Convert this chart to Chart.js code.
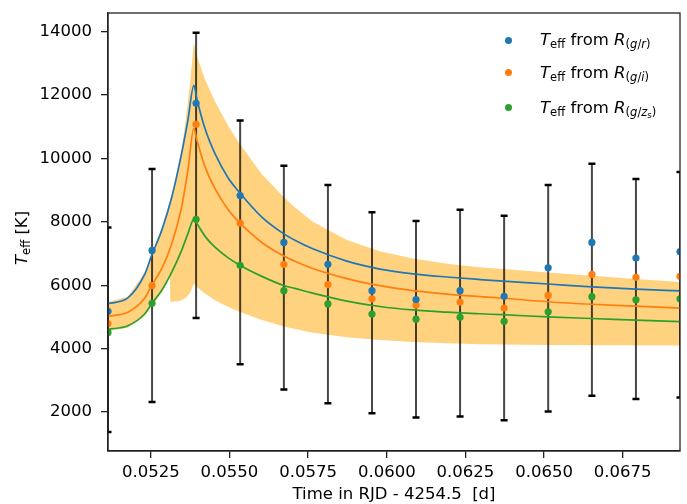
<!DOCTYPE html>
<html>
<head>
<meta charset="utf-8">
<script src="https://cdn.jsdelivr.net/npm/chart.js@4.4.1/dist/chart.umd.min.js"></script>
<style>
    body { margin: 0; background: #fff; }
    #wrap { position: relative; width: 687px; height: 504px; font-family: "DejaVu Sans", sans-serif; color: #000; }
    .lbl { position: absolute; font-size: 16.5px; white-space: pre; line-height: 20px; }
    .lbl sub { font-size: 70%; vertical-align: baseline; position: relative; top: 0.28em; line-height: 0; }
    .lbl sub sub { font-size: 75%; top: 0.22em; }
    .dot { position: absolute; width: 7px; height: 7px; border-radius: 50%; margin: -3.5px 0 0 -3.5px; }
</style>
</head>
<body>
<div id="wrap">
    <canvas id="tempChart" width="687" height="504"></canvas>

    <div class="dot" style="left:508.7px; top:40px; background:#1f77b4"></div>
    <div class="dot" style="left:508.7px; top:72.3px; background:#ff7f0e"></div>
    <div class="dot" style="left:508.7px; top:107.3px; background:#2ca02c"></div>
    <div class="lbl" style="left:540px; top:30px"><i>T</i><sub>eff</sub> from <i>R</i><sub>(<i>g</i>/<i>r</i>)</sub></div>
    <div class="lbl" style="left:540px; top:62.5px"><i>T</i><sub>eff</sub> from <i>R</i><sub>(<i>g</i>/<i>i</i>)</sub></div>
    <div class="lbl" style="left:540px; top:97.5px"><i>T</i><sub>eff</sub> from <i>R</i><sub>(<i>g</i>/<i>z</i><sub>s</sub>)</sub></div>

    <div class="lbl" style="left:22px; top:238px; transform: translate(-50%, -50%) rotate(-90deg)"><i>T</i><sub>eff</sub> [K]</div>
    <div class="lbl" style="left:394px; top:494px; transform: translate(-50%, -50%)">Time in RJD - 4254.5  [d]</div>
</div>

<script>
// observation times (RJD - 4254.5) and temperatures
var times = [0.05114, 0.05254, 0.05394, 0.05534, 0.05673, 0.05813, 0.05953, 0.06093, 0.06233, 0.06373, 0.06513, 0.06652, 0.06792, 0.06932];
var tempGR = [5180, 7100, 11740, 8830, 7350, 6660, 5830, 5550, 5830, 5650, 6550, 7350, 6860, 7060];
var tempGI = [4790, 5990, 11080, 7960, 6660, 6020, 5570, 5370, 5470, 5280, 5680, 6340, 6250, 6280];
var tempGZ = [4510, 5430, 8080, 6630, 5830, 5410, 5090, 4930, 4990, 4860, 5160, 5640, 5540, 5570];
var errLow = [1370, 2320, 4970, 3510, 2710, 2280, 1960, 1830, 1860, 1740, 2020, 2510, 2410, 2460];
var errHigh = [7820, 9670, 13970, 11200, 9770, 9160, 8300, 8030, 8380, 8190, 9160, 9830, 9350, 9570];

// model curves
var curveT = [0.05114, 0.05177, 0.05231, 0.05253, 0.05285, 0.05317, 0.05348, 0.05368, 0.05387, 0.05396, 0.05422, 0.05454, 0.05495, 0.05530, 0.05603, 0.05673, 0.05708, 0.05765, 0.05873, 0.05978, 0.06083, 0.06191, 0.06296, 0.06369, 0.06512, 0.06652, 0.06792, 0.06932];
var curveGR = [5420, 5600, 6350, 6950, 7740, 8790, 10160, 11210, 12310, 11900, 10950, 10150, 9400, 8950, 8150, 7620, 7420, 7150, 6760, 6510, 6360, 6260, 6180, 6130, 6040, 5950, 5880, 5820];
var curveGI = [5020, 5150, 5600, 6000, 6530, 7320, 8470, 9630, 10950, 10600, 9750, 9050, 8400, 8000, 7350, 6920, 6760, 6530, 6210, 5990, 5830, 5720, 5640, 5590, 5480, 5400, 5340, 5280];
var curveGZ = [4610, 4720, 5100, 5420, 5840, 6420, 7100, 7630, 8080, 7960, 7550, 7200, 6870, 6650, 6280, 5990, 5900, 5750, 5500, 5330, 5220, 5150, 5100, 5070, 5000, 4950, 4900, 4850];

// uncertainty band
var bandUpperT = [0.05114, 0.05177, 0.05231, 0.05253, 0.05285, 0.05317, 0.05348, 0.05361, 0.05374, 0.05387, 0.05396, 0.05422, 0.05454, 0.05495, 0.05530, 0.05603, 0.05673, 0.05708, 0.05765, 0.05873, 0.05978, 0.06083, 0.06191, 0.06296, 0.06369, 0.06512, 0.06652, 0.06792, 0.06932];
var bandUpper = [5470, 5640, 6400, 7000, 7800, 8850, 10300, 11200, 12300, 13650, 13250, 12500, 11800, 11050, 10500, 9500, 8780, 8450, 8000, 7430, 7070, 6840, 6680, 6570, 6510, 6400, 6300, 6200, 6100];
var bandLowerT = [0.05114, 0.05177, 0.05231, 0.05253, 0.05285, 0.05311, 0.05312, 0.05342, 0.05361, 0.05374, 0.05387, 0.05396, 0.05422, 0.05454, 0.05495, 0.05530, 0.05603, 0.05673, 0.05708, 0.05765, 0.05873, 0.05978, 0.06083, 0.06191, 0.06296, 0.06512, 0.06932];
var bandLower = [4560, 4660, 5040, 5350, 5780, 6300, 5470, 5500, 5600, 5750, 6050, 5950, 5740, 5530, 5320, 5170, 4900, 4700, 4620, 4500, 4360, 4270, 4210, 4170, 4140, 4115, 4100];

var xTicks = [0.0525, 0.0550, 0.0575, 0.0600, 0.0625, 0.0650, 0.0675];
var yTicks = [2000, 4000, 6000, 8000, 10000, 12000, 14000];

function toXY(xs, ys) {
    return xs.map(function (x, i) { return { x: x, y: ys[i] }; });
}

function curve(xs, ys, color) {
    return {
        type: 'line',
        data: toXY(xs, ys),
        borderColor: color,
        borderWidth: 1.7,
        pointRadius: 0,
        cubicInterpolationMode: 'monotone',
        fill: false,
        order: 1
    };
}

function points(ys, color) {
    return {
        type: 'scatter',
        data: toXY(times, ys),
        backgroundColor: color,
        borderWidth: 0,
        pointRadius: 3.6,
        pointHoverRadius: 3.6,
        order: 0
    };
}

// error bars + frame, drawn through the chart's scales
var errorBars = {
    id: 'errorBars',
    afterDatasetDraw: function (chart, args) {
        if (args.meta._dataset.label !== 'band') return;
        var ctx = chart.ctx, xs = chart.scales.x, ys = chart.scales.y, area = chart.chartArea;
        ctx.save();
        ctx.beginPath();
        ctx.rect(area.left, area.top, area.right - area.left, area.bottom - area.top);
        ctx.clip();
        for (var i = 0; i < times.length; i++) {
            var px = xs.getPixelForValue(times[i]);
            var lo = ys.getPixelForValue(errLow[i]);
            var hi = ys.getPixelForValue(errHigh[i]);
            ctx.strokeStyle = 'rgba(0,0,0,0.72)';
            ctx.lineWidth = 2;
            ctx.beginPath();
            ctx.moveTo(px, lo);
            ctx.lineTo(px, hi);
            ctx.stroke();
            ctx.strokeStyle = '#000';
            ctx.lineWidth = 2.5;
            ctx.beginPath();
            ctx.moveTo(px - 3.5, lo); ctx.lineTo(px + 3.5, lo);
            ctx.moveTo(px - 3.5, hi); ctx.lineTo(px + 3.5, hi);
            ctx.stroke();
        }
        ctx.restore();
    },
    afterDraw: function (chart) {
        var ctx = chart.ctx, area = chart.chartArea;
        ctx.save();
        ctx.strokeStyle = '#222';
        ctx.lineWidth = 1.3;
        ctx.strokeRect(area.left, area.top, area.right - area.left, area.bottom - area.top);
        ctx.restore();
    }
};

var ctx = document.getElementById('tempChart').getContext('2d');
var tempChart = new Chart(ctx, {
    type: 'scatter',
    data: {
        datasets: [
            points(tempGR, '#1f77b4'),
            points(tempGI, '#ff7f0e'),
            points(tempGZ, '#2ca02c'),
            curve(curveT, curveGR, '#1f77b4'),
            curve(curveT, curveGI, '#ff7f0e'),
            curve(curveT, curveGZ, '#2ca02c'),
            {
                label: 'band',
                type: 'line',
                data: toXY(bandUpperT, bandUpper),
                borderWidth: 0,
                pointRadius: 0,
                backgroundColor: 'rgba(255,165,0,0.5)',
                fill: '+1',
                tension: 0,
                order: 2
            },
            {
                type: 'line',
                data: toXY(bandLowerT, bandLower),
                borderWidth: 0,
                pointRadius: 0,
                fill: false,
                tension: 0,
                order: 2
            }
        ]
    },
    options: {
        responsive: false,
        animation: false,
        devicePixelRatio: 1,
        layout: { padding: { top: 13, right: 7, left: 0, bottom: 0 } },
        plugins: {
            legend: { display: false },
            tooltip: { enabled: false }
        },
        scales: {
            x: {
                type: 'linear',
                min: times[0],
                max: times[times.length - 1],
                afterFit: function (scale) {
                    scale.height = 53;
                    scale.paddingLeft = 0;
                    scale.paddingRight = 0;
                },
                afterBuildTicks: function (scale) {
                    scale.ticks = xTicks.map(function (v) { return { value: v }; });
                },
                grid: { drawOnChartArea: false, drawTicks: true, tickLength: 7, color: '#222', lineWidth: 1.3 },
                border: { display: true, color: '#222', width: 1.3 },
                ticks: {
                    color: '#000',
                    padding: 5,
                    maxRotation: 0,
                    font: { family: 'DejaVu Sans', size: 16.5 },
                    callback: function (v) { return v.toFixed(4); }
                }
            },
            y: {
                type: 'linear',
                min: 770,
                max: 14590,
                afterFit: function (scale) {
                    scale.width = 108;
                    scale.paddingTop = 0;
                    scale.paddingBottom = 0;
                },
                afterBuildTicks: function (scale) {
                    scale.ticks = yTicks.map(function (v) { return { value: v }; });
                },
                grid: { drawOnChartArea: false, drawTicks: true, tickLength: 7, color: '#222', lineWidth: 1.3 },
                border: { display: true, color: '#222', width: 1.3 },
                ticks: {
                    color: '#000',
                    padding: 9,
                    font: { family: 'DejaVu Sans', size: 16.5 },
                    callback: function (v) { return String(v); }
                }
            }
        }
    },
    plugins: [errorBars]
});
</script>
</body>
</html>
